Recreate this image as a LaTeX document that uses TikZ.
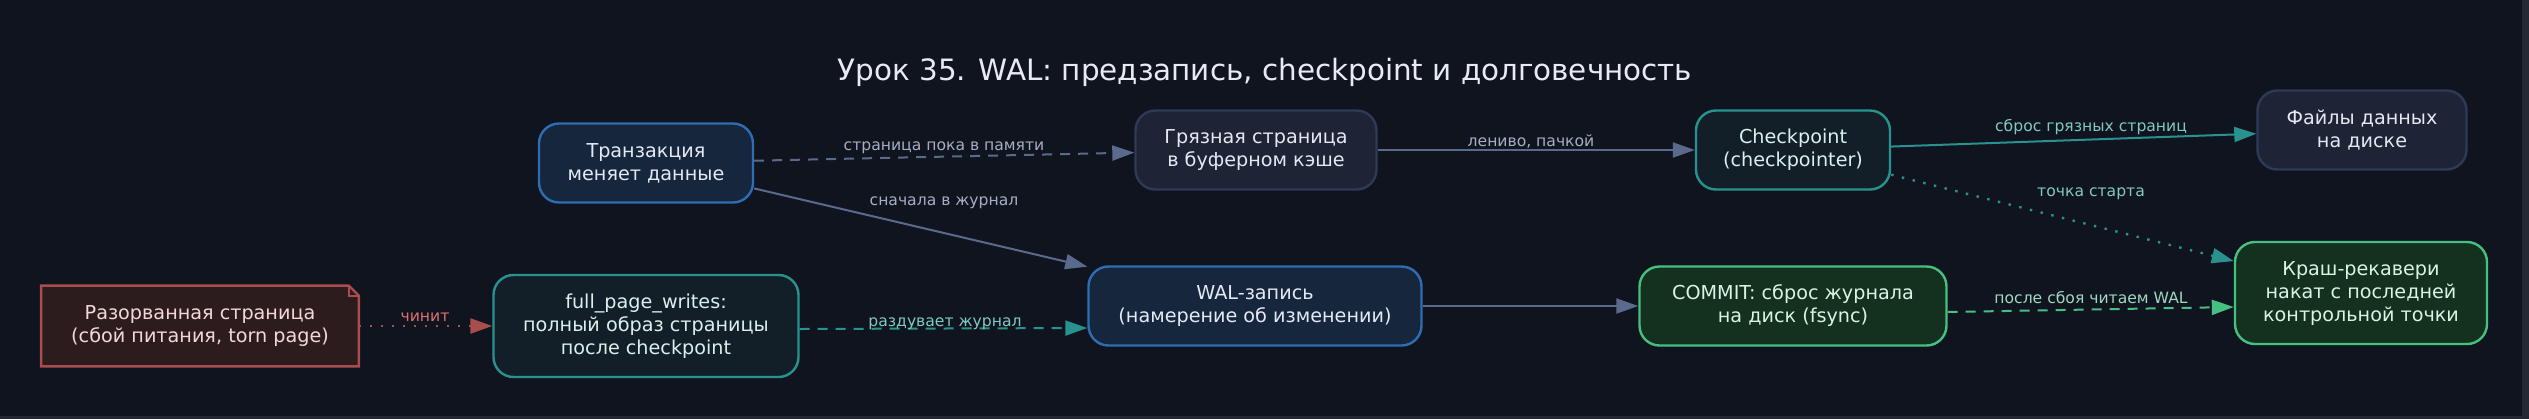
\documentclass[tikz,border=0pt]{standalone}
\usepackage{fontspec}
\setmainfont{DejaVu Sans}
\usetikzlibrary{arrows.meta,calc}

\definecolor{bg}{HTML}{10141F}
\definecolor{edgeStrip}{HTML}{232833}
\definecolor{blueFill}{HTML}{15263D}
\definecolor{blueLine}{HTML}{2F6DB3}
\definecolor{grayFill}{HTML}{1E2335}
\definecolor{grayLine}{HTML}{2E3A56}
\definecolor{tealFill}{HTML}{131F28}
\definecolor{tealLine}{HTML}{2A928E}
\definecolor{greenFill}{HTML}{14301F}
\definecolor{greenLine}{HTML}{46C080}
\definecolor{redFill}{HTML}{2C1C1E}
\definecolor{redLine}{HTML}{A84E4E}
\definecolor{edgeGray}{HTML}{5A6A8C}
\definecolor{labGray}{HTML}{A4AEC4}
\definecolor{labTeal}{HTML}{7FCAC2}
\definecolor{labGreen}{HTML}{9ED8C0}
\definecolor{labRed}{HTML}{E07070}
\definecolor{titleCol}{HTML}{E8EBF2}
\definecolor{txtBlue}{HTML}{E4EAF4}
\definecolor{txtGray}{HTML}{E4E8F2}
\definecolor{txtTeal}{HTML}{D8F0EE}
\definecolor{txtGreen}{HTML}{DAF4E4}
\definecolor{txtRed}{HTML}{F4D8D8}

\tikzset{
  box/.style={rounded corners=10pt, line width=1.2pt, align=center, inner sep=0pt,
    font=\fontsize{9.6}{11.5}\selectfont},
  bluebox/.style={box, fill=blueFill, draw=blueLine, text=txtBlue},
  graybox/.style={box, fill=grayFill, draw=grayLine, text=txtGray},
  tealbox/.style={box, fill=tealFill, draw=tealLine, text=txtTeal},
  greenbox/.style={box, fill=greenFill, draw=greenLine, text=txtGreen},
  notebox/.style={align=center, inner sep=0pt, text=txtRed,
    font=\fontsize{9.6}{11.5}\selectfont},
  conn/.style={line width=1pt, -{Triangle[length=11pt,width=7.5pt]}},
  dashline/.style={dash pattern=on 5pt off 4pt},
  dotline/.style={line width=1.2pt, dash pattern=on 1.2pt off 4.3pt},
  elabel/.style={anchor=base, inner sep=0pt, font=\fontsize{7.8}{9}\selectfont},
}

\begin{document}
\begin{tikzpicture}[x=0.5pt, y=-0.5pt]
  % canvas with its thin lighter frame on the right and bottom
  \fill[edgeStrip] (0,0) rectangle (2529,419);
  \fill[bg] (0,0) rectangle (2522,416);
  \useasboundingbox (0,0) rectangle (2529,419);

  % title
  \node[anchor=base, inner sep=0pt, text=titleCol, font=\fontsize{14.7}{16}\selectfont]
    (title) at (1265,80) {Урок 35. WAL: предзапись, checkpoint и долговечность};

  % nodes
  \node[bluebox, minimum width=107pt, minimum height=39.5pt] (trx) at (646,163)
    {Транзакция\\меняет данные};
  \node[graybox, minimum width=120.5pt, minimum height=39.5pt] (dirty) at (1256,150)
    {Грязная страница\\в буферном кэше};
  \node[bluebox, minimum width=166.5pt, minimum height=39.5pt] (wal) at (1255,306)
    {WAL-запись\\(намерение об изменении)};
  \node[tealbox, minimum width=152.5pt, minimum height=51pt] (fpw) at (646,326)
    {full\_page\_writes:\\полный образ страницы\\после checkpoint};
  \node[tealbox, minimum width=97pt, minimum height=39.5pt] (ckpt) at (1793,150)
    {Checkpoint\\(checkpointer)};
  \node[graybox, minimum width=104.5pt, minimum height=39.5pt] (files) at (2362,130)
    {Файлы данных\\на диске};
  \node[greenbox, minimum width=153.5pt, minimum height=39.5pt] (commit) at (1793,306)
    {COMMIT: сброс журнала\\на диск (fsync)};
  \node[greenbox, minimum width=126pt, minimum height=51pt] (crash) at (2361,293)
    {Краш-рекавери\\накат с последней\\контрольной точки};

  % note with folded corner
  \node[notebox, minimum width=158.5pt, minimum height=40pt] (torn) at (200,326) {};
  \filldraw[fill=redFill, draw=redLine, line width=1.2pt]
    (torn.north west) -- ($(torn.north east)+(-10,0)$) -- ($(torn.north east)+(0,10)$)
    -- (torn.south east) -- (torn.south west) -- cycle;
  \draw[redLine, line width=1pt]
    ($(torn.north east)+(-10,0)$) -- ($(torn.north east)+(-10,10)$) -- ($(torn.north east)+(0,10)$);
  \node[notebox] (torntext) at (torn.center) {Разорванная страница\\(сбой питания, torn page)};

  % connectors
  \draw[conn, edgeGray, dashline] (trx) -- (dirty);
  \draw[conn, edgeGray] (trx) -- (wal);
  \draw[conn, edgeGray] (dirty) -- (ckpt);
  \draw[conn, edgeGray] (wal) -- (commit);
  \draw[conn, tealLine] (ckpt) -- (files);
  \draw[conn, tealLine, dotline] (ckpt) -- (crash);
  \draw[conn, greenLine, dashline] ($(commit.east)+(0,6)$) -- ($(crash.west)+(0,14)$);
  \draw[conn, tealLine, dashline] ($(fpw.east)+(0,3)$) -- ($(wal.west)+(0,22)$);
  \draw[conn, redLine, dotline] (torn) -- (fpw);

  % connector labels
  \node[elabel, text=labGray] (l1) at (944,150) {страница пока в памяти};
  \node[elabel, text=labGray] (l2) at (944,205) {сначала в журнал};
  \node[elabel, text=labRed] (l3) at (425,321) {чинит};
  \node[elabel, text=labTeal] (l4) at (945,326) {раздувает журнал};
  \node[elabel, text=labGray] (l5) at (1531,146) {лениво, пачкой};
  \node[elabel, text=labTeal] (l6) at (2091,131) {сброс грязных страниц};
  \node[elabel, text=labTeal] (l7) at (2091,196) {точка старта};
  \node[elabel, text=labGreen] (l8) at (2091,303) {после сбоя читаем WAL};
\end{tikzpicture}
\end{document}
